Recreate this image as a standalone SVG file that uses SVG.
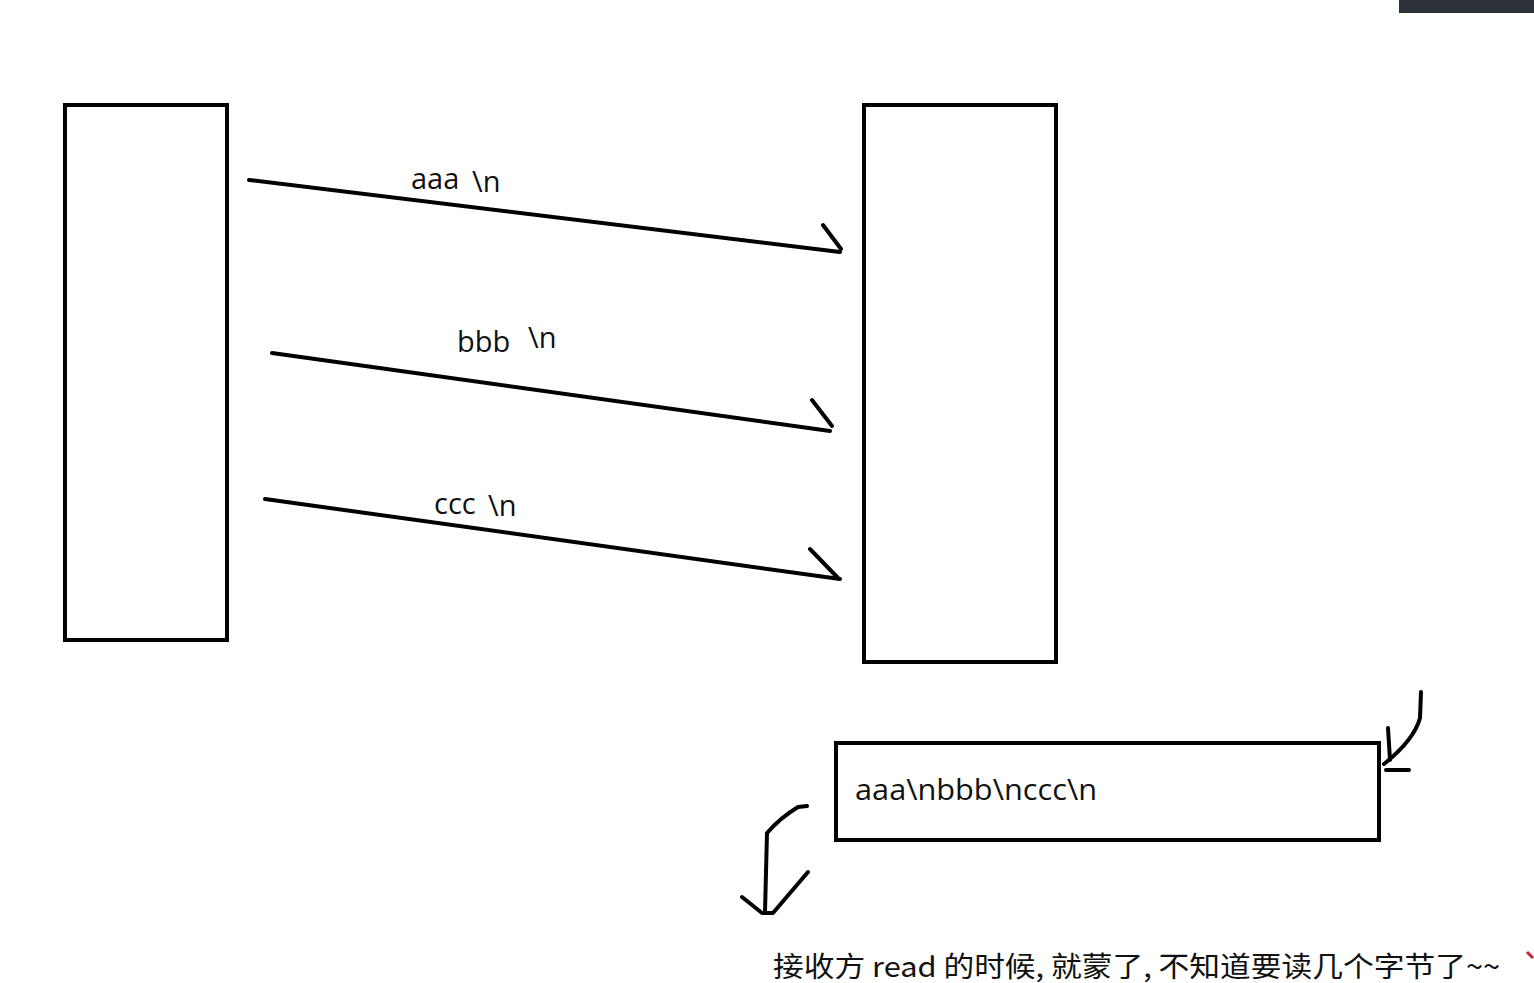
<svg xmlns="http://www.w3.org/2000/svg" width="1534" height="983" viewBox="0 0 1534 983">
<style>
.box{fill:none;stroke:#000;stroke-width:4}
.ln{fill:none;stroke:#000;stroke-width:4;stroke-linecap:round;stroke-linejoin:round}
.lbl{font-family:"Open Sans","Liberation Sans",sans-serif;font-size:29px;fill:#111}
.cn{font-family:"Noto Sans CJK SC","Noto Sans",sans-serif;font-size:28px;fill:#111}
</style>
<rect width="1534" height="983" fill="#fff"/>
<rect x="1399" y="0" width="135" height="13" fill="#2c313a"/>
<g id="sender"><rect class="box" x="65" y="105" width="162" height="535"/></g>
<g id="receiver"><rect class="box" x="864" y="105" width="192" height="557"/></g>
<g id="buffer"><rect class="box" x="836" y="743" width="543" height="97"/>
<text class="lbl" x="855" y="800" textLength="242" lengthAdjust="spacingAndGlyphs">aaa\nbbb\nccc\n</text></g>
<g id="connectors">
<path class="ln" d="M249 180 L840 252 M823 225 L841 249"/>
<path class="ln" d="M272 353 L830 431 M812 400 L832 426"/>
<path class="ln" d="M265 499 L840 579 M810 549 L838 578"/>
<path class="ln" d="M1421 692 L1420 718 Q1414 740 1384 764 M1388 728 L1390 760 M1386 770 L1409 770" stroke-width="3"/>
<path class="ln" d="M807 806 L798 807 Q780 818 767 833 L765 912 M742 897 L762 913 L773 913 L808 872" stroke-width="3"/>
</g>
<g id="labels">
<text class="lbl" x="411" y="189">aaa<tspan x="472" y="192">\n</tspan></text>
<text class="lbl" x="457" y="352" font-size="31">bbb<tspan x="528" y="348">\n</tspan></text>
<text class="lbl" x="434" y="514">ccc<tspan x="488" y="516">\n</tspan></text>
</g>
<text class="cn" x="773" y="977" textLength="727" lengthAdjust="spacingAndGlyphs">接收方 read 的时候, 就蒙了, 不知道要读几个字节了~~</text>
<path d="M1527 952 L1533 958" stroke="#d02030" stroke-width="3" fill="none"/>
</svg>
